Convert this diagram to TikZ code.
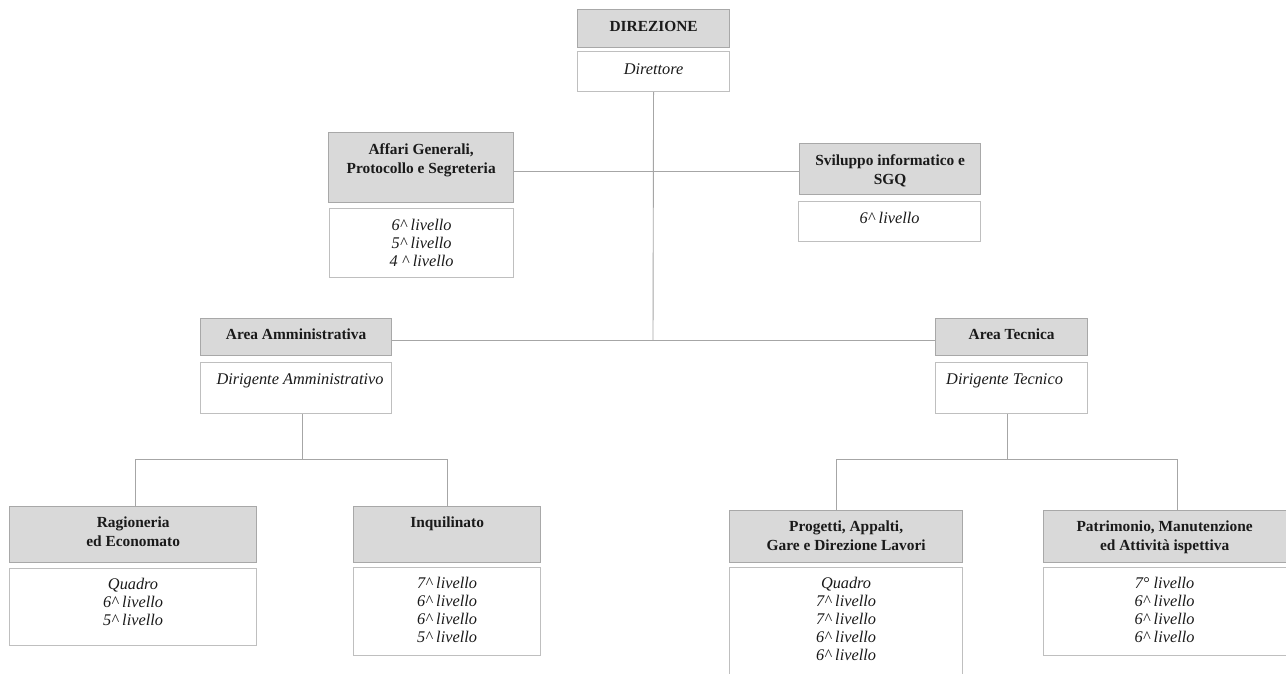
\documentclass[tikz,border=0pt]{standalone}
\usepackage{fontspec}
\setmainfont{Liberation Serif}
\begin{document}
\begin{tikzpicture}[x=1pt,y=-1pt,
  hdr/.style={draw=hdrline,fill=hdrfill,line width=1.3pt,inner sep=0pt,anchor=north west},
  bodybox/.style={draw=boxline,fill=white,line width=1.1pt,inner sep=0pt,anchor=north west},
  htext/.style={anchor=north,inner sep=0pt,align=center,font=\fontsize{15.4}{19}\selectfont\bfseries,text=txt},
  btext/.style={anchor=north,inner sep=0pt,align=center,font=\fontsize{16.3}{18}\selectfont\itshape,text=txt},
  conn/.style={draw=connline,line width=0.9pt}]
\definecolor{hdrfill}{HTML}{D9D9D9}
\definecolor{hdrline}{HTML}{A8A8A8}
\definecolor{boxline}{HTML}{BFBFBF}
\definecolor{connline}{HTML}{A6A6A6}
\definecolor{txt}{HTML}{1A1A1A}
\useasboundingbox[fill=white] (0,0) rectangle (1286,673);

% DIREZIONE
\node[hdr,minimum width=152pt,minimum height=38pt] (dir) at (577,9) {};
\node[htext] (dirt) at ([yshift=-12.5pt]dir.north) {DIREZIONE};
\node[bodybox,minimum width=152pt,minimum height=40pt] (dirb) at (577,51) {};
\node[btext] (dirbt) at ([yshift=-12.5pt]dirb.north) {Direttore};

% Affari Generali
\node[hdr,minimum width=185pt,minimum height=70pt] (aff) at (328,132) {};
\node[htext] (afft) at ([yshift=-11pt]aff.north) {Affari Generali,\\Protocollo e Segreteria};
\node[bodybox,minimum width=184pt,minimum height=69pt] (affb) at (329,208) {};
\node[btext] (affbt) at ([yshift=-11pt]affb.north) {6\^{} livello\\5\^{} livello\\4 \^{} livello};

% Sviluppo
\node[hdr,minimum width=181pt,minimum height=51pt] (svi) at (799,143) {};
\node[htext] (svit) at ([yshift=-11pt]svi.north) {Sviluppo informatico e\\SGQ};
\node[bodybox,minimum width=182pt,minimum height=40pt] (svib) at (798,201) {};
\node[btext] (svibt) at ([yshift=-11pt]svib.north) {6\^{} livello};

% Area Amministrativa
\node[hdr,minimum width=191pt,minimum height=37pt] (aam) at (200,318) {};
\node[htext] (aamt) at ([yshift=-11pt]aam.north) {Area Amministrativa};
\node[bodybox,minimum width=191pt,minimum height=51pt] (aamb) at (200,362) {};
\node[btext] (aambt) at ([xshift=4pt,yshift=-11.5pt]aamb.north) {Dirigente Amministrativo};

% Area Tecnica
\node[hdr,minimum width=152pt,minimum height=37pt] (ate) at (935,318) {};
\node[htext] (atet) at ([yshift=-11pt]ate.north) {Area Tecnica};
\node[bodybox,minimum width=152pt,minimum height=51pt] (ateb) at (935,362) {};
\node[btext] (atebt) at ([xshift=-7pt,yshift=-11.5pt]ateb.north) {Dirigente Tecnico};

% Ragioneria
\node[hdr,minimum width=247pt,minimum height=56pt] (rag) at (9,506) {};
\node[htext] (ragt) at ([yshift=-11pt]rag.north) {Ragioneria\\ed Economato};
\node[bodybox,minimum width=247pt,minimum height=77pt] (ragb) at (9,568) {};
\node[btext] (ragbt) at ([yshift=-10pt]ragb.north) {Quadro\\6\^{} livello\\5\^{} livello};

% Inquilinato
\node[hdr,minimum width=187pt,minimum height=56pt] (inq) at (353,506) {};
\node[htext] (inqt) at ([yshift=-11pt]inq.north) {Inquilinato};
\node[bodybox,minimum width=187pt,minimum height=88pt] (inqb) at (353,567) {};
\node[btext] (inqbt) at ([yshift=-10pt]inqb.north) {7\^{} livello\\6\^{} livello\\6\^{} livello\\5\^{} livello};

% Progetti
\node[hdr,minimum width=233pt,minimum height=52pt] (pro) at (729,510) {};
\node[htext] (prot) at ([yshift=-11pt]pro.north) {Progetti, Appalti,\\Gare e Direzione Lavori};
\node[bodybox,minimum width=233pt,minimum height=120pt] (prob) at (729,567) {};
\node[btext] (probt) at ([yshift=-10pt]prob.north) {Quadro\\7\^{} livello\\7\^{} livello\\6\^{} livello\\6\^{} livello};

% Patrimonio
\node[hdr,minimum width=250pt,minimum height=52pt] (pat) at (1043,510) {};
\node[htext] (patt) at ([xshift=-4pt,yshift=-11pt]pat.north) {Patrimonio, Manutenzione\\ed Attività ispettiva};
\node[bodybox,minimum width=250pt,minimum height=88pt] (patb) at (1043,567) {};
\node[btext] (patbt) at ([xshift=-4pt,yshift=-10pt]patb.north) {7° livello\\6\^{} livello\\6\^{} livello\\6\^{} livello};

% connectors
\coordinate (j1) at (653,171);
\coordinate (j2) at (653,340);
\coordinate (jl) at (302,459);
\coordinate (jr) at (1007,459);
\coordinate (xl1) at (135,459);
\coordinate (xl2) at (447,459);
\coordinate (xr1) at (836,459);
\coordinate (xr2) at (1177,459);

\draw[conn] (dirb.south) -- (j2);
\draw[conn] (aff.east |- j1) -- (svi.west |- j1);
\draw[conn] (aam.east |- j2) -- (ate.west |- j2);
\draw[conn] (jl |- aamb.south) -- (jl);
\draw[conn] (xl1) -- (xl2);
\draw[conn] (xl1) -- (xl1 |- rag.north);
\draw[conn] (xl2) -- (xl2 |- inq.north);
\draw[conn] (jr |- ateb.south) -- (jr);
\draw[conn] (xr1) -- (xr2);
\draw[conn] (xr1) -- (xr1 |- pro.north);
\draw[conn] (xr2) -- (xr2 |- pat.north);
\end{tikzpicture}
\end{document}
